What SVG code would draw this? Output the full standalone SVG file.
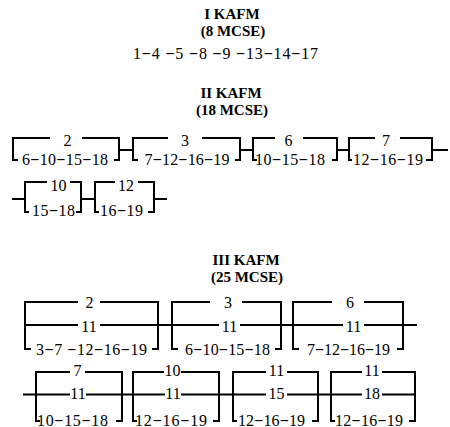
<svg xmlns="http://www.w3.org/2000/svg" width="450" height="427" viewBox="0 0 450 427">
<style>
.ln{stroke:#000;stroke-width:2;fill:none}
.t{font-family:'Liberation Serif','Times New Roman',serif;font-size:16px;text-anchor:middle;fill:#000}
.h{font-family:'Liberation Serif','Times New Roman',serif;font-size:15px;font-weight:bold;text-anchor:middle;fill:#000}
.m{font-weight:bold}
</style>
<rect width="450" height="427" fill="#fff"/>
<g id="titles">
<text class="h" x="232" y="18.5">I KAFM</text>
<text class="h" x="233" y="35.5">(8 MCSE)</text>
<text class="h" x="231" y="97.5">II KAFM</text>
<text class="h" x="232" y="114.5">(18 MCSE)</text>
<text class="h" x="246" y="265">III KAFM</text>
<text class="h" x="247" y="282">(25 MCSE)</text>
</g>
<g id="seq1">
<text class="t" x="225.5" y="59" textLength="185" lengthAdjust="spacing">1<tspan class="m">−</tspan>4 <tspan class="m">−</tspan>5 <tspan class="m">−</tspan>8 <tspan class="m">−</tspan>9 <tspan class="m">−</tspan>13<tspan class="m">−</tspan>14<tspan class="m">−</tspan>17</text>
</g>
<g id="connectors" class="ln">
<path d="M119,150 H133 M240,150 H253 M337,150 H349 M432,150 H448"/>
<path d="M12,199 H25 M81,199 H95 M154,199 H167"/>
<path d="M158,325 H172 M281,325 H293 M403,325 H417"/>
<path d="M23,394.5 H36 M122,394.5 H133 M219,394.5 H233 M318,394.5 H331"/>
</g>
<g id="n2-1">
<path class="ln" d="M50,138 H13 V160 H18 M82,138 H119 V160 H114"/>
<text class="t" x="67.5" y="145.5">2</text>
<text class="t" x="65" y="165" textLength="86" lengthAdjust="spacing">6<tspan class="m">−</tspan>10<tspan class="m">−</tspan>15<tspan class="m">−</tspan>18</text>
</g>
<g id="n2-2">
<path class="ln" d="M168,138 H133 V160 H138 M202,138 H240 V160 H235"/>
<text class="t" x="185" y="145.5">3</text>
<text class="t" x="187" y="165" textLength="85" lengthAdjust="spacing">7<tspan class="m">−</tspan>12<tspan class="m">−</tspan>16<tspan class="m">−</tspan>19</text>
</g>
<g id="n2-3">
<path class="ln" d="M275,138 H253 V160 H257 M303,138 H337 V160 H332"/>
<text class="t" x="288.5" y="145.5">6</text>
<text class="t" x="290" y="165" textLength="70" lengthAdjust="spacing">10<tspan class="m">−</tspan>15<tspan class="m">−</tspan>18</text>
</g>
<g id="n2-4">
<path class="ln" d="M375,138 H349 V160 H352 M400,138 H432 V160 H426"/>
<text class="t" x="386" y="145.5">7</text>
<text class="t" x="388" y="165" textLength="70" lengthAdjust="spacing">12<tspan class="m">−</tspan>16<tspan class="m">−</tspan>19</text>
</g>
<g id="n2-5">
<path class="ln" d="M47,182 H25 V212 H29 M70,182 H81 V212 H76"/>
<text class="t" x="58.5" y="191">10</text>
<text class="t" x="53.5" y="216" textLength="43" lengthAdjust="spacing">15<tspan class="m">−</tspan>18</text>
</g>
<g id="n2-6">
<path class="ln" d="M115,182 H95 V212 H99 M138,182 H154 V212 H148"/>
<text class="t" x="126" y="191">12</text>
<text class="t" x="121.5" y="216" textLength="43" lengthAdjust="spacing">16<tspan class="m">−</tspan>19</text>
</g>
<g id="n3-1">
<path class="ln" d="M78,302 H25 V349 H31 M100,302 H158 V349 H152 M25,325 H78 M100,325 H158"/>
<text class="t" x="89.5" y="308">2</text>
<text class="t" x="89" y="332">11</text>
<text class="t" x="91.5" y="355" textLength="111" lengthAdjust="spacing">3<tspan class="m">−</tspan>7 <tspan class="m">−</tspan>12<tspan class="m">−</tspan>16<tspan class="m">−</tspan>19</text>
</g>
<g id="n3-2">
<path class="ln" d="M210,302 H172 V349 H178 M242,302 H281 V349 H275 M172,325 H219 M240,325 H281"/>
<text class="t" x="228" y="308">3</text>
<text class="t" x="229.5" y="332">11</text>
<text class="t" x="227.5" y="355" textLength="85" lengthAdjust="spacing">6<tspan class="m">−</tspan>10<tspan class="m">−</tspan>15<tspan class="m">−</tspan>18</text>
</g>
<g id="n3-3">
<path class="ln" d="M332,302 H293 V349 H299 M364,302 H403 V349 H397 M293,325 H343 M364,325 H403"/>
<text class="t" x="350" y="308">6</text>
<text class="t" x="353.5" y="332">11</text>
<text class="t" x="348.5" y="355" textLength="83" lengthAdjust="spacing">7<tspan class="m">−</tspan>12<tspan class="m">−</tspan>16<tspan class="m">−</tspan>19</text>
</g>
<g id="n3-4">
<path class="ln" d="M70,372 H36 V421 H40 M85,372 H122 V421 H116 M36,394.5 H70 M86,394.5 H122"/>
<text class="t" x="77.5" y="376">7</text>
<text class="t" x="78" y="398.5">11</text>
<text class="t" x="72.5" y="425.5" textLength="71" lengthAdjust="spacing">10<tspan class="m">−</tspan>15<tspan class="m">−</tspan>18</text>
</g>
<g id="n3-5">
<path class="ln" d="M164,372 H133 V421 H137 M181,372 H219 V421 H213 M133,394.5 H165 M181,394.5 H219"/>
<text class="t" x="172.5" y="376">10</text>
<text class="t" x="173" y="398.5">11</text>
<text class="t" x="171" y="425.5" textLength="72" lengthAdjust="spacing">12<tspan class="m">−</tspan>16<tspan class="m">−</tspan>19</text>
</g>
<g id="n3-6">
<path class="ln" d="M266,372 H233 V421 H237 M287,372 H318 V421 H312 M233,394.5 H266 M287,394.5 H318"/>
<text class="t" x="276.5" y="376">11</text>
<text class="t" x="276.5" y="398.5">15</text>
<text class="t" x="271.5" y="425.5" textLength="67" lengthAdjust="spacing">12<tspan class="m">−</tspan>16<tspan class="m">−</tspan>19</text>
</g>
<g id="n3-7">
<path class="ln" d="M362,372 H331 V421 H335 M382,372 H415 V421 H409 M331,394.5 H362 M382,394.5 H415"/>
<text class="t" x="372" y="376">11</text>
<text class="t" x="372" y="398.5">18</text>
<text class="t" x="369" y="425.5" textLength="68" lengthAdjust="spacing">12<tspan class="m">−</tspan>16<tspan class="m">−</tspan>19</text>
</g>
</svg>
